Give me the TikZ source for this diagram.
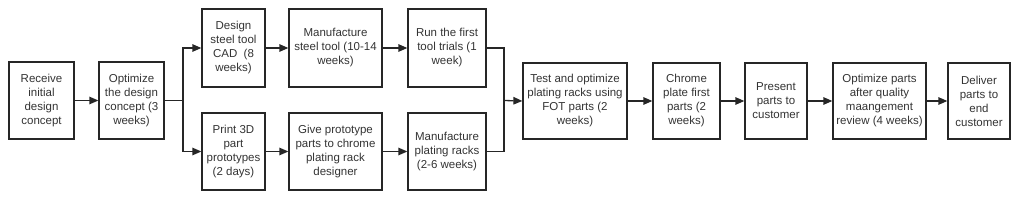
\documentclass[tikz,border=0pt]{standalone}
\usepackage{fontspec}
\setmainfont{Liberation Sans}
\usetikzlibrary{arrows.meta}
\begin{document}
\begin{tikzpicture}[x=1pt,y=-1pt,
  box/.style={draw=black!85, line width=1.3pt, align=center, inner sep=2pt,
    font=\fontsize{11.5}{14}\selectfont, text=black!80},
  conn/.style={draw=black!85, line width=1.3pt},
  arr/.style={conn, -{Triangle[length=9pt,width=7.5pt]}}]
\useasboundingbox (0,0) rectangle (1024,200);
\node[box, minimum width=65, minimum height=77] (recv) at (41.5,100.5) {Receive\\initial\\design\\concept};
\node[box, minimum width=65, minimum height=77] (opt) at (131.5,100.5) {Optimize\\the design\\concept (3\\weeks)};
\node[box, minimum width=63, minimum height=78] (design) at (233.5,48) {Design\\steel tool\\CAD~ (8\\weeks)};
\node[box, minimum width=63, minimum height=77] (print) at (233.5,151.5) {Print 3D\\part\\prototypes\\(2 days)};
\node[box, minimum width=93, minimum height=78] (msteel) at (335.5,48) {Manufacture\\steel tool (10-14\\weeks)};
\node[box, minimum width=93, minimum height=77] (give) at (335.5,151.5) {Give prototype\\parts to chrome\\plating rack\\designer};
\node[box, minimum width=78, minimum height=78] (run) at (447,48) {Run the first\\tool trials (1\\week)};
\node[box, minimum width=78, minimum height=77] (mplat) at (447,151.5) {Manufacture\\plating racks\\(2-6 weeks)};
\node[box, minimum width=104, minimum height=76] (test) at (575,101) {Test and optimize\\plating racks using\\FOT parts (2\\weeks)};
\node[box, minimum width=67, minimum height=76] (chrome) at (686.5,101) {Chrome\\plate first\\parts (2\\weeks)};
\node[box, minimum width=62, minimum height=76] (present) at (776,101) {Present\\parts to\\customer};
\node[box, minimum width=93, minimum height=76] (optp) at (879.5,101) {Optimize parts\\after quality\\maangement\\review (4 weeks)};
\node[box, minimum width=62, minimum height=76] (deliver) at (979,101) {Deliver\\parts to\\end\\customer};
\coordinate (j1) at (183,100.5);
\coordinate (j2) at (504,100.5);
\draw[arr] (recv) -- (opt);
\draw[conn] (opt.east) -- (j1);
\draw[arr] (j1) |- (design.west);
\draw[arr] (j1) |- (print.west);
\draw[arr] (design) -- (msteel);
\draw[arr] (print) -- (give);
\draw[arr] (msteel) -- (run);
\draw[arr] (give) -- (mplat);
\draw[conn] (run.east) -| (j2);
\draw[conn] (mplat.east) -| (j2);
\draw[arr] (j2) -- (test.west);
\draw[arr] (test) -- (chrome);
\draw[arr] (chrome) -- (present);
\draw[arr] (present) -- (optp);
\draw[arr] (optp) -- (deliver);
\end{tikzpicture}
\end{document}
